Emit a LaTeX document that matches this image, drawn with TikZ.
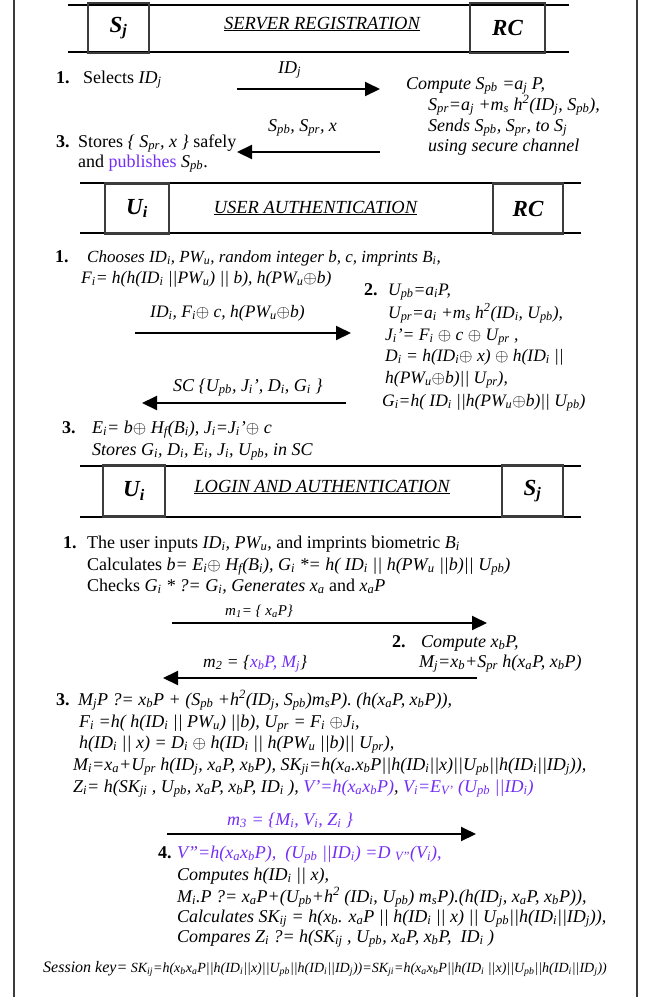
\documentclass[tikz,border=0pt]{standalone}
\usepackage{fontspec}
\setmainfont{Liberation Serif}
\usetikzlibrary{arrows.meta}
\definecolor{purp}{RGB}{115,45,245}
\definecolor{frm}{RGB}{60,60,60}
\newcommand{\sbs}[1]{\textsubscript{#1}}
\newcommand{\sps}[1]{\textsuperscript{#1}}
\newcommand{\xo}{\ensuremath{\oplus}}
\begin{document}
\begin{tikzpicture}[x=1pt,y=-1pt,
  txt/.style={anchor=base west,inner sep=0pt,font=\fontsize{18}{21}\selectfont},
  itx/.style={txt,font=\fontsize{18}{21}\selectfont\itshape},
  itm/.style={txt,font=\fontsize{17.5}{21}\selectfont\itshape},
  num/.style={txt,font=\fontsize{18}{21}\selectfont\bfseries},
  lab/.style={txt,font=\fontsize{15}{18}\selectfont\itshape},
  ttl/.style={anchor=base,inner sep=0pt,font=\fontsize{18.5}{21}\selectfont\itshape},
  hbox/.style={draw=frm,line width=2.6pt,inner sep=0pt,font=\fontsize{23}{26}\selectfont\bfseries\itshape},
  hline/.style={line width=1.8pt},
  msg/.style={line width=2pt,-{Triangle[length=15pt,width=14pt]}},
  frame/.style={draw=frm,line width=1.6pt}]
\useasboundingbox (0,0) rectangle (649,997);
% outer frame
\coordinate (ftl) at (14,-10); \coordinate (fbl) at (14,1010);
\coordinate (ftr) at (637,-10); \coordinate (fbr) at (637,1010);
\draw[frame] (ftl) -- (fbl); \draw[frame] (ftr) -- (fbr);

% ===== Section 1 =====
\coordinate (h1a) at (68,5); \coordinate (h1b) at (569,5);
\coordinate (h1c) at (68,52); \coordinate (h1d) at (569,52);
\draw[hline] (h1a) -- (h1b); \draw[hline] (h1c) -- (h1d);
\node[hbox,minimum width=61pt,minimum height=50pt] (sj1) at (118.5,28) {S\sbs{j}};
\node[hbox,minimum width=75pt,minimum height=50pt] (rc1) at (507.5,28) {RC};
\node[ttl] (t1) at (322,29) {\underline{SERVER REGISTRATION}};

\node[num] (s1n1) at (56,83) {1.};
\node[txt] (s1a) at (83,83) {Selects \textit{ID\sbs{j}}};
\node[itx] (s1l1) at (278,73) {ID\sbs{j}};
\coordinate (s1ar1s) at (237,89); \coordinate (s1ar1e) at (380,89);
\draw[msg] (s1ar1s) -- (s1ar1e);
\node[itx] (s1b) at (406,89) {Compute S\sbs{pb} =a\sbs{j} P,};
\node[itx] (s1c) at (428,110) {S\sbs{pr}=a\sbs{j} +m\sbs{s} h\sps{2}(ID\sbs{j}, S\sbs{pb}),};
\node[itx] (s1d) at (428,131) {Sends S\sbs{pb}, S\sbs{pr}, to S\sbs{j}};
\node[itx] (s1e) at (428,151) {using secure channel};
\node[itx] (s1l2) at (268,131) {S\sbs{pb}, S\sbs{pr}, x};
\coordinate (s1ar2s) at (380,152); \coordinate (s1ar2e) at (237,152);
\draw[msg] (s1ar2s) -- (s1ar2e);
\node[num] (s1n3) at (56,147) {3.};
\node[txt] (s1f) at (78,147) {Stores \textit{\{ S\sbs{pr}, x \}} safely};
\node[txt] (s1g) at (78,167) {and \textcolor{purp}{publishes} \textit{S\sbs{pb}}.};

% ===== Section 2 =====
\coordinate (h2a) at (80,183); \coordinate (h2b) at (581,183);
\coordinate (h2c) at (80,233); \coordinate (h2d) at (581,233);
\draw[hline] (h2a) -- (h2b); \draw[hline] (h2c) -- (h2d);
\node[hbox,minimum width=64pt,minimum height=50pt] (ui2) at (137,208.5) {U\sbs{i}};
\node[hbox,minimum width=70pt,minimum height=50pt] (rc2) at (528,208.5) {RC};
\node[ttl] (t2) at (315.5,213) {\underline{USER AUTHENTICATION}};

\node[num] (s2n1) at (55,262) {1.};
\node[itx,font=\fontsize{17}{20}\selectfont\itshape] (s2a) at (87,262) {Chooses ID\sbs{i}, PW\sbs{u}, random integer b, c, imprints B\sbs{i},};
\node[itm] (s2b) at (81,283) {F\sbs{i}= h(h(ID\sbs{i} ||PW\sbs{u}) || b), h(PW\sbs{u}\xo b)};
\node[num] (s2n2) at (364,295) {2.};
\node[itm] (s2c) at (388,295) {U\sbs{pb}=a\sbs{i}P,};
\node[itm] (s2d) at (388,318) {U\sbs{pr}=a\sbs{i} +m\sbs{s} h\sps{2}(ID\sbs{i}, U\sbs{pb}),};
\node[itm] (s2e) at (385,340) {J\sbs{i}'= F\sbs{i} \xo\ c \xo\ U\sbs{pr} ,};
\node[itm] (s2f) at (385,361) {D\sbs{i} = h(ID\sbs{i}\xo\ x) \xo\ h(ID\sbs{i} ||};
\node[itm] (s2g) at (385,383) {h(PW\sbs{u}\xo b)|| U\sbs{pr}),};
\node[itm] (s2h) at (382,406) {G\sbs{i}=h( ID\sbs{i} ||h(PW\sbs{u}\xo b)|| U\sbs{pb})};
\node[itm] (s2l1) at (150,317) {ID\sbs{i}, F\sbs{i}\xo\ c, h(PW\sbs{u}\xo b)};
\coordinate (s2ar1s) at (135,333); \coordinate (s2ar1e) at (351,333);
\draw[msg] (s2ar1s) -- (s2ar1e);
\node[itx] (s2l2) at (173,391) {SC \{U\sbs{pb}, J\sbs{i}', D\sbs{i}, G\sbs{i} \}};
\coordinate (s2ar2s) at (346,403); \coordinate (s2ar2e) at (142,403);
\draw[msg] (s2ar2s) -- (s2ar2e);
\node[num] (s2n3) at (62,433) {3.};
\node[itx] (s2i) at (92,433) {E\sbs{i}= b\xo\ H\sbs{f}(B\sbs{i}), J\sbs{i}=J\sbs{i}'\xo\ c};
\node[itx] (s2j) at (92,455) {Stores G\sbs{i}, D\sbs{i}, E\sbs{i}, J\sbs{i}, U\sbs{pb}, in SC};

% ===== Section 3 =====
\coordinate (h3a) at (80,466); \coordinate (h3b) at (581,466);
\coordinate (h3c) at (80,517); \coordinate (h3d) at (581,517);
\draw[hline] (h3a) -- (h3b); \draw[hline] (h3c) -- (h3d);
\node[hbox,minimum width=62pt,minimum height=51pt] (ui3) at (134,491) {U\sbs{i}};
\node[hbox,minimum width=61pt,minimum height=51pt] (sj3) at (532.5,491) {S\sbs{j}};
\node[ttl] (t3) at (322,492) {\underline{LOGIN AND AUTHENTICATION}};

\node[num] (s3n1) at (63,548) {1.};
\node[txt] (s3a) at (87,548) {The user inputs \textit{ID\sbs{i}, PW\sbs{u},} and imprints biometric \textit{B\sbs{i}}};
\node[txt] (s3b) at (87,570) {Calculates \textit{b= E\sbs{i}\xo\ H\sbs{f}(B\sbs{i}), G\sbs{i} *= h( ID\sbs{i} || h(PW\sbs{u} ||b)|| U\sbs{pb})}};
\node[txt] (s3c) at (87,591) {Checks \textit{G\sbs{i} * ?= G\sbs{i}, Generates x\sbs{a}} and \textit{x\sbs{a}P}};
\node[lab] (s3l1) at (225,615) {m\sbs{1}= \{ x\sbs{a}P\}};
\coordinate (s3ar1s) at (172,623); \coordinate (s3ar1e) at (487,623);
\draw[msg] (s3ar1s) -- (s3ar1e);
\node[num] (s3n2) at (392,647) {2.};
\node[itx] (s3d) at (421,647) {Compute x\sbs{b}P,};
\node[itx] (s3e) at (419,667) {M\sbs{j}=x\sbs{b}+S\sbs{pr} h(x\sbs{a}P, x\sbs{b}P)};
\node[itm] (s3l2) at (203,667) {m\sbs{2} = \{\textcolor{purp}{x\sbs{b}P, M\sbs{j}}\}};
\coordinate (s3ar2s) at (477,678); \coordinate (s3ar2e) at (163,678);
\draw[msg] (s3ar2s) -- (s3ar2e);
\node[num] (s3n3) at (56,705) {3.};
\node[itx] (s3f) at (78,705) {M\sbs{j}P ?= x\sbs{b}P + (S\sbs{pb} +h\sps{2}(ID\sbs{j}, S\sbs{pb})m\sbs{s}P). (h(x\sbs{a}P, x\sbs{b}P)),};
\node[itx] (s3g) at (79,727) {F\sbs{i} =h( h(ID\sbs{i} || PW\sbs{u}) ||b), U\sbs{pr} = F\sbs{i} \xo J\sbs{i},};
\node[itx] (s3h) at (79,748) {h(ID\sbs{i} || x) = D\sbs{i} \xo\ h(ID\sbs{i} || h(PW\sbs{u} ||b)|| U\sbs{pr}),};
\node[itx] (s3i) at (73,770) {M\sbs{i}=x\sbs{a}+U\sbs{pr} h(ID\sbs{j}, x\sbs{a}P, x\sbs{b}P), SK\sbs{ji}=h(x\sbs{a}.x\sbs{b}P||h(ID\sbs{i}||x)||U\sbs{pb}||h(ID\sbs{i}||ID\sbs{j})),};
\node[itx] (s3j) at (73,792) {Z\sbs{i}= h(SK\sbs{ji} , U\sbs{pb}, x\sbs{a}P, x\sbs{b}P, ID\sbs{i} ), \textcolor{purp}{V'=h(x\sbs{a}x\sbs{b}P)}, \textcolor{purp}{V\sbs{i}=E\sbs{V'} (U\sbs{pb} ||ID\sbs{i})}};
\node[itx,text=purp] (s3l3) at (227,825) {m\sbs{3} = \{M\sbs{i}, V\sbs{i}, Z\sbs{i} \}};
\coordinate (s3ar3s) at (167,834); \coordinate (s3ar3e) at (476,834);
\draw[msg] (s3ar3s) -- (s3ar3e);
\node[num] (s3n4) at (158,858) {4.};
\node[itx] (s3k) at (177,858) {\textcolor{purp}{V''=h(x\sbs{a}x\sbs{b}P),\ \ (U\sbs{pb} ||ID\sbs{i}) =D \sbs{V''}(V\sbs{i}),}};
\node[itx] (s3l) at (177,880) {Computes h(ID\sbs{i} || x),};
\node[itx] (s3m) at (177,902) {M\sbs{i}.P ?= x\sbs{a}P+(U\sbs{pb}+h\sps{2} (ID\sbs{i}, U\sbs{pb}) m\sbs{s}P).(h(ID\sbs{j}, x\sbs{a}P, x\sbs{b}P)),};
\node[itx] (s3n) at (177,922) {Calculates SK\sbs{ij} = h(x\sbs{b}. x\sbs{a}P || h(ID\sbs{i} || x) || U\sbs{pb}||h(ID\sbs{i}||ID\sbs{j})),};
\node[itx] (s3o) at (177,942) {Compares Z\sbs{i} ?= h(SK\sbs{ij} , U\sbs{pb}, x\sbs{a}P, x\sbs{b}P,\ \ ID\sbs{i} )};
\node[txt,font=\fontsize{14}{16}\selectfont\itshape] (sk) at (43,972) {{\fontsize{16}{18}\selectfont Session key=} SK\sbs{ij}=h(x\sbs{b}x\sbs{a}P||h(ID\sbs{i}||x)||U\sbs{pb}||h(ID\sbs{i}||ID\sbs{j}))=SK\sbs{ji}=h(x\sbs{a}x\sbs{b}P||h(ID\sbs{i} ||x)||U\sbs{pb}||h(ID\sbs{i}||ID\sbs{j}))};
\end{tikzpicture}
\end{document}
